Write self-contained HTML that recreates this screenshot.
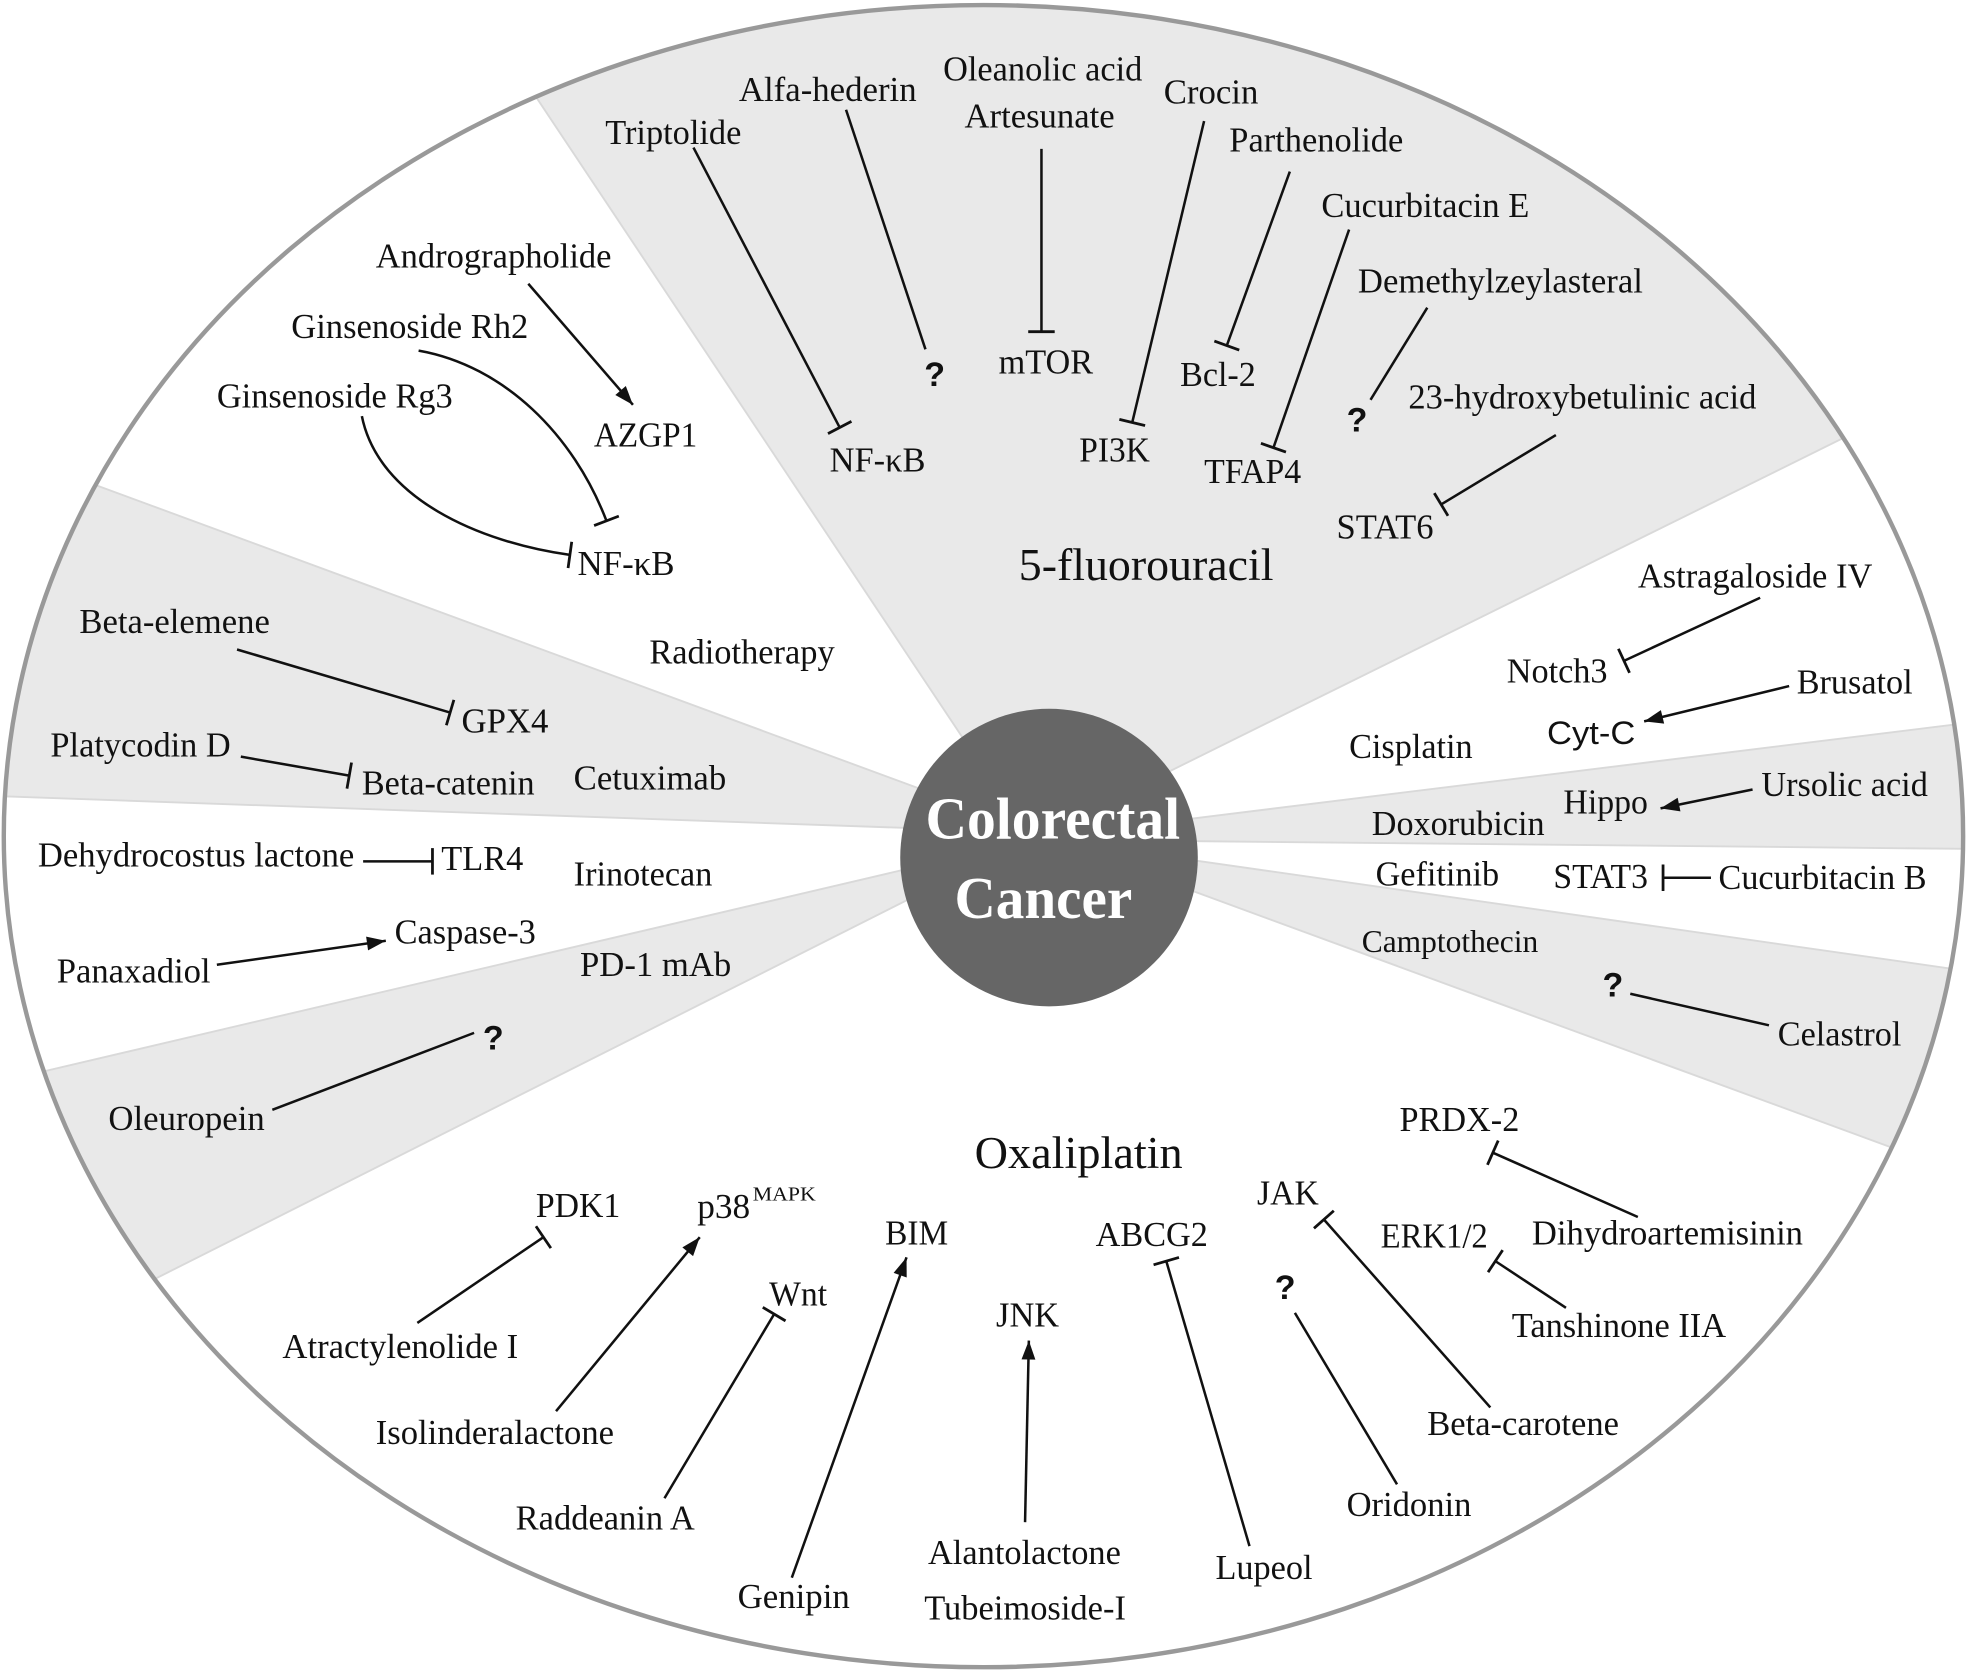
<!DOCTYPE html>
<html>
<head>
<meta charset="utf-8">
<style>
  html,body{margin:0;padding:0;background:#fff;overflow:hidden;}
  svg{display:block;}
  .t{font-family:"Liberation Serif","Times New Roman",serif;font-size:28px;fill:#111;}
  .big{font-family:"Liberation Serif","Times New Roman",serif;font-size:36px;fill:#111;}
  .q{font-family:"Liberation Sans",Arial,sans-serif;font-weight:bold;font-size:27px;fill:#111;}
  .s{font-family:"Liberation Sans",Arial,sans-serif;font-size:26px;fill:#111;}
  .c{font-family:"Liberation Serif","Times New Roman",serif;font-weight:bold;font-size:47px;fill:#fff;}
  .ln line,.ln path{stroke:#111;stroke-width:2;fill:none;}
</style>
</head>
<body>
<svg width="1977" height="1671" viewBox="0 0 1568 1325" preserveAspectRatio="none" xmlns="http://www.w3.org/2000/svg">
  <defs>
    <clipPath id="ell">
      <ellipse cx="780" cy="663" rx="777" ry="659"/>
    </clipPath>
    <marker id="tee" markerUnits="userSpaceOnUse" markerWidth="30" markerHeight="30" refX="15" refY="15" orient="auto" overflow="visible">
      <line x1="15" y1="4.5" x2="15" y2="25.5" stroke="#111" stroke-width="2.2"/>
    </marker>
    <marker id="arr" markerUnits="userSpaceOnUse" markerWidth="30" markerHeight="30" refX="15" refY="15" orient="auto" overflow="visible">
      <path d="M0,9.5 L15,15 L0,20.5 Z" fill="#111"/>
    </marker>
  </defs>

  <rect x="0" y="0" width="1568" height="1325" fill="#fff"/>

  <!-- gray sectors -->
  <g clip-path="url(#ell)" fill="#e9e9e9" stroke="#d9d9d9" stroke-width="1.5">
    <polygon points="793.5,630 324,-75 1600,-75 1600,279 855,647.5"/>
    <polygon points="780,644 -10,353 -10,631 790,659"/>
    <polygon points="790,672.5 -10,860 -10,1081 790,678.2"/>
    <polygon points="870,658.4 1600,568.4 1600,673.5 870,666.2"/>
    <polygon points="870,671.2 1600,775.6 1600,946.5 870,678.6"/>
  </g>

  <!-- outer ellipse -->
  <ellipse cx="780" cy="663" rx="777" ry="659" fill="none" stroke="#999" stroke-width="3.5"/>

  <!-- center circle -->
  <circle cx="832" cy="680" r="118" fill="#666"/>
  <text class="c" x="734" y="665" textLength="202" lengthAdjust="spacingAndGlyphs">Colorectal</text>
  <text class="c" x="757" y="728" textLength="141" lengthAdjust="spacingAndGlyphs">Cancer</text>

  <!-- connectors -->
  <g class="ln">
    <!-- tees -->
    <line x1="550" y1="117" x2="666" y2="339" marker-end="url(#tee)"/>
    <line x1="826" y1="118" x2="826" y2="263" marker-end="url(#tee)"/>
    <line x1="955" y1="96" x2="898" y2="335" marker-end="url(#tee)"/>
    <line x1="1023" y1="136" x2="973" y2="274" marker-end="url(#tee)"/>
    <line x1="1070" y1="182" x2="1010" y2="355" marker-end="url(#tee)"/>
    <line x1="1234" y1="345" x2="1143" y2="400" marker-end="url(#tee)"/>
    <path d="M332,278 C400,290 455,345 481,413" marker-end="url(#tee)"/>
    <path d="M287,330 C300,395 380,430 452,440" marker-end="url(#tee)"/>
    <line x1="188" y1="515" x2="357" y2="565" marker-end="url(#tee)"/>
    <line x1="191" y1="600" x2="277" y2="615" marker-end="url(#tee)"/>
    <line x1="288" y1="683" x2="343" y2="683" marker-end="url(#tee)"/>
    <line x1="331" y1="1049" x2="431" y2="981" marker-end="url(#tee)"/>
    <line x1="527" y1="1188" x2="614" y2="1042" marker-end="url(#tee)"/>
    <line x1="991" y1="1226" x2="925" y2="1000" marker-end="url(#tee)"/>
    <line x1="1182" y1="1116" x2="1050" y2="967" marker-end="url(#tee)"/>
    <line x1="1299" y1="965" x2="1184" y2="914" marker-end="url(#tee)"/>
    <line x1="1242" y1="1037" x2="1186" y2="1000" marker-end="url(#tee)"/>
    <line x1="1396" y1="474" x2="1288" y2="524" marker-end="url(#tee)"/>
    <line x1="1357" y1="696" x2="1319" y2="696" marker-end="url(#tee)"/>
    <!-- arrows -->
    <line x1="419" y1="225" x2="502" y2="321" marker-end="url(#arr)"/>
    <line x1="172" y1="765" x2="306" y2="746" marker-end="url(#arr)"/>
    <line x1="441" y1="1119" x2="555" y2="981" marker-end="url(#arr)"/>
    <line x1="628" y1="1251" x2="719" y2="997" marker-end="url(#arr)"/>
    <line x1="813" y1="1207" x2="816" y2="1063" marker-end="url(#arr)"/>
    <line x1="1419" y1="544" x2="1304" y2="572" marker-end="url(#arr)"/>
    <line x1="1390" y1="626" x2="1317" y2="641" marker-end="url(#arr)"/>
    <!-- plain -->
    <line x1="671" y1="87" x2="734" y2="277"/>
    <line x1="1132" y1="244" x2="1087" y2="317"/>
    <line x1="216" y1="880" x2="376" y2="819"/>
    <line x1="1108" y1="1177" x2="1027" y2="1041"/>
    <line x1="1403" y1="813" x2="1293" y2="788"/>
  </g>

  <!-- top sector labels -->
  <text class="t" x="748" y="64" textLength="158" lengthAdjust="spacingAndGlyphs">Oleanolic acid</text>
  <text class="t" x="765" y="101" textLength="119" lengthAdjust="spacingAndGlyphs">Artesunate</text>
  <text class="t" x="586" y="80" textLength="141" lengthAdjust="spacingAndGlyphs">Alfa-hederin</text>
  <text class="t" x="480" y="114" textLength="108" lengthAdjust="spacingAndGlyphs">Triptolide</text>
  <text class="t" x="923" y="82" textLength="75" lengthAdjust="spacingAndGlyphs">Crocin</text>
  <text class="t" x="975" y="120" textLength="138" lengthAdjust="spacingAndGlyphs">Parthenolide</text>
  <text class="t" x="1048" y="172" textLength="165" lengthAdjust="spacingAndGlyphs">Cucurbitacin E</text>
  <text class="t" x="1077" y="232" textLength="226" lengthAdjust="spacingAndGlyphs">Demethylzeylasteral</text>
  <text class="t" x="1117" y="324" textLength="276" lengthAdjust="spacingAndGlyphs">23-hydroxybetulinic acid</text>
  <text class="t" x="792" y="296" textLength="75" lengthAdjust="spacingAndGlyphs">mTOR</text>
  <text class="t" x="658" y="374" textLength="76" lengthAdjust="spacingAndGlyphs">NF-κB</text>
  <text class="t" x="856" y="366" textLength="56" lengthAdjust="spacingAndGlyphs">PI3K</text>
  <text class="t" x="936" y="306" textLength="60" lengthAdjust="spacingAndGlyphs">Bcl-2</text>
  <text class="t" x="955" y="383" textLength="77" lengthAdjust="spacingAndGlyphs">TFAP4</text>
  <text class="t" x="1060" y="427" textLength="77" lengthAdjust="spacingAndGlyphs">STAT6</text>
  <text class="q" x="733" y="306">?</text>
  <text class="q" x="1068" y="342">?</text>
  <text class="big" x="808" y="460" textLength="202" lengthAdjust="spacingAndGlyphs">5-fluorouracil</text>

  <!-- upper-left labels -->
  <text class="t" x="298" y="212" textLength="187" lengthAdjust="spacingAndGlyphs">Andrographolide</text>
  <text class="t" x="231" y="268" textLength="188" lengthAdjust="spacingAndGlyphs">Ginsenoside Rh2</text>
  <text class="t" x="172" y="323" textLength="187" lengthAdjust="spacingAndGlyphs">Ginsenoside Rg3</text>
  <text class="t" x="471" y="354" textLength="82" lengthAdjust="spacingAndGlyphs">AZGP1</text>
  <text class="t" x="458" y="456" textLength="77" lengthAdjust="spacingAndGlyphs">NF-κB</text>
  <text class="t" x="515" y="526" textLength="147" lengthAdjust="spacingAndGlyphs">Radiotherapy</text>

  <!-- left labels -->
  <text class="t" x="63" y="502" textLength="151" lengthAdjust="spacingAndGlyphs">Beta-elemene</text>
  <text class="t" x="366" y="581" textLength="69" lengthAdjust="spacingAndGlyphs">GPX4</text>
  <text class="t" x="40" y="600" textLength="143" lengthAdjust="spacingAndGlyphs">Platycodin D</text>
  <text class="t" x="287" y="630" textLength="137" lengthAdjust="spacingAndGlyphs">Beta-catenin</text>
  <text class="t" x="455" y="626" textLength="121" lengthAdjust="spacingAndGlyphs">Cetuximab</text>
  <text class="t" x="30" y="687" textLength="251" lengthAdjust="spacingAndGlyphs">Dehydrocostus lactone</text>
  <text class="t" x="350" y="690" textLength="65" lengthAdjust="spacingAndGlyphs">TLR4</text>
  <text class="t" x="455" y="702" textLength="110" lengthAdjust="spacingAndGlyphs">Irinotecan</text>
  <text class="t" x="313" y="748" textLength="112" lengthAdjust="spacingAndGlyphs">Caspase-3</text>
  <text class="t" x="45" y="779" textLength="122" lengthAdjust="spacingAndGlyphs">Panaxadiol</text>
  <text class="t" x="460" y="774" textLength="120" lengthAdjust="spacingAndGlyphs">PD-1 mAb</text>
  <text class="q" x="383" y="832">?</text>
  <text class="t" x="86" y="896" textLength="124" lengthAdjust="spacingAndGlyphs">Oleuropein</text>

  <!-- bottom labels -->
  <text class="big" x="773" y="926" textLength="165" lengthAdjust="spacingAndGlyphs">Oxaliplatin</text>
  <text class="t" x="425" y="965" textLength="67" lengthAdjust="spacingAndGlyphs">PDK1</text>
  <text class="t" x="553" y="966" textLength="42" lengthAdjust="spacingAndGlyphs">p38</text>
  <text class="t" x="597" y="952" style="font-size:16px" textLength="50" lengthAdjust="spacingAndGlyphs">MAPK</text>
  <text class="t" x="702" y="987" textLength="50" lengthAdjust="spacingAndGlyphs">BIM</text>
  <text class="t" x="610" y="1035" textLength="46" lengthAdjust="spacingAndGlyphs">Wnt</text>
  <text class="t" x="790" y="1052" textLength="50" lengthAdjust="spacingAndGlyphs">JNK</text>
  <text class="t" x="869" y="988" textLength="89" lengthAdjust="spacingAndGlyphs">ABCG2</text>
  <text class="t" x="997" y="955" textLength="49" lengthAdjust="spacingAndGlyphs">JAK</text>
  <text class="t" x="1110" y="897" textLength="95" lengthAdjust="spacingAndGlyphs">PRDX-2</text>
  <text class="t" x="1095" y="989" textLength="85" lengthAdjust="spacingAndGlyphs">ERK1/2</text>
  <text class="t" x="1215" y="987" textLength="215" lengthAdjust="spacingAndGlyphs">Dihydroartemisinin</text>
  <text class="q" x="1011" y="1030">?</text>
  <text class="t" x="1199" y="1060" textLength="170" lengthAdjust="spacingAndGlyphs">Tanshinone IIA</text>
  <text class="t" x="224" y="1077" textLength="187" lengthAdjust="spacingAndGlyphs">Atractylenolide I</text>
  <text class="t" x="298" y="1145" textLength="189" lengthAdjust="spacingAndGlyphs">Isolinderalactone</text>
  <text class="t" x="409" y="1213" textLength="142" lengthAdjust="spacingAndGlyphs">Raddeanin A</text>
  <text class="t" x="585" y="1275" textLength="89" lengthAdjust="spacingAndGlyphs">Genipin</text>
  <text class="t" x="736" y="1240" textLength="153" lengthAdjust="spacingAndGlyphs">Alantolactone</text>
  <text class="t" x="733" y="1284" textLength="160" lengthAdjust="spacingAndGlyphs">Tubeimoside-I</text>
  <text class="t" x="964" y="1252" textLength="77" lengthAdjust="spacingAndGlyphs">Lupeol</text>
  <text class="t" x="1068" y="1202" textLength="99" lengthAdjust="spacingAndGlyphs">Oridonin</text>
  <text class="t" x="1132" y="1138" textLength="152" lengthAdjust="spacingAndGlyphs">Beta-carotene</text>

  <!-- right labels -->
  <text class="t" x="1299" y="466" textLength="186" lengthAdjust="spacingAndGlyphs">Astragaloside IV</text>
  <text class="t" x="1195" y="541" textLength="80" lengthAdjust="spacingAndGlyphs">Notch3</text>
  <text class="t" x="1425" y="550" textLength="92" lengthAdjust="spacingAndGlyphs">Brusatol</text>
  <text class="s" x="1227" y="590" textLength="70" lengthAdjust="spacingAndGlyphs">Cyt-C</text>
  <text class="t" x="1070" y="601" textLength="98" lengthAdjust="spacingAndGlyphs">Cisplatin</text>
  <text class="t" x="1397" y="631" textLength="132" lengthAdjust="spacingAndGlyphs">Ursolic acid</text>
  <text class="t" x="1240" y="645" textLength="67" lengthAdjust="spacingAndGlyphs">Hippo</text>
  <text class="t" x="1088" y="662" textLength="137" lengthAdjust="spacingAndGlyphs">Doxorubicin</text>
  <text class="t" x="1091" y="702" textLength="98" lengthAdjust="spacingAndGlyphs">Gefitinib</text>
  <text class="t" x="1232" y="704" textLength="75" lengthAdjust="spacingAndGlyphs">STAT3</text>
  <text class="t" x="1363" y="705" textLength="165" lengthAdjust="spacingAndGlyphs">Cucurbitacin B</text>
  <text class="t" x="1080" y="755" style="font-size:25px" textLength="140" lengthAdjust="spacingAndGlyphs">Camptothecin</text>
  <text class="q" x="1271" y="790">?</text>
  <text class="t" x="1410" y="829" textLength="98" lengthAdjust="spacingAndGlyphs">Celastrol</text>
</svg>
</body>
</html>
